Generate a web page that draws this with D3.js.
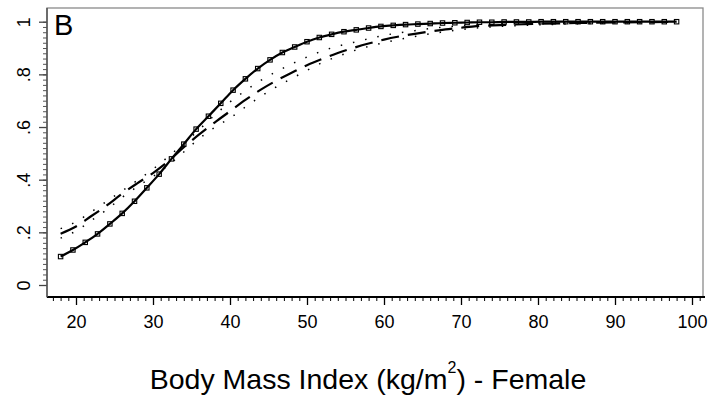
<!DOCTYPE html>
<html>
<head>
<meta charset="utf-8">
<script src="https://cdn.jsdelivr.net/npm/d3@7"></script>
<style>
  html, body { margin: 0; padding: 0; background: #fff; }
  svg { display: block; font-family: Arial, "Liberation Sans", sans-serif; }
</style>
</head>
<body>
<svg id="chart" width="726" height="401"></svg>
<script>
// ---- Data ----
const xTicks = [20, 30, 40, 50, 60, 70, 80, 90, 100];
const yTicks = [0, 0.2, 0.4, 0.6, 0.8, 1];
const yTickLabels = ["0", ".2", ".4", ".6", ".8", "1"];
const panelLabel = "B";

// Solid fitted curve with square markers (BMI, probability)
const solidBmi = [18, 19.6, 21.2, 22.8, 24.4, 26, 27.6, 29.2, 30.8, 32.4, 34, 35.6, 37.2, 38.8, 40.4, 42, 43.6, 45.2, 46.8, 48.4, 50, 51.6, 53.2, 54.8, 56.4, 58, 59.6, 61.2, 62.8, 64.4, 66, 67.6, 69.2, 70.8, 72.4, 74, 75.6, 77.2, 78.8, 80.4, 82, 83.6, 85.2, 86.8, 88.4, 90, 91.6, 93.2, 94.8, 96.4, 98];
const solidVal = [0.108, 0.133, 0.162, 0.194, 0.232, 0.272, 0.318, 0.369, 0.421, 0.479, 0.535, 0.592, 0.641, 0.69, 0.74, 0.783, 0.822, 0.855, 0.883, 0.904, 0.924, 0.94, 0.952, 0.962, 0.969, 0.976, 0.982, 0.986, 0.989, 0.991, 0.993, 0.995, 0.996, 0.997, 0.998, 0.998, 0.999, 0.999, 0.999, 1.0, 1.0, 1.0, 1.0, 1.0, 1.0, 1.0, 1.0, 1.0, 1.0, 1.0, 1.0];

// Dashed curve and its dotted band
const curveBmi = [18, 20, 22, 24, 26, 28, 30, 32, 34, 36, 38, 40, 42, 44, 46, 48, 50, 52, 54, 56, 58, 60, 62, 64, 66, 68, 70, 72, 75, 80, 85, 90, 98];
const dashedVal = [0.195, 0.222, 0.262, 0.302, 0.347, 0.387, 0.425, 0.47, 0.523, 0.572, 0.617, 0.66, 0.703, 0.742, 0.776, 0.806, 0.835, 0.859, 0.881, 0.9, 0.917, 0.932, 0.944, 0.954, 0.963, 0.971, 0.977, 0.983, 0.987, 0.992, 0.995, 0.997, 0.999];
const upperVal = [0.214, 0.24, 0.278, 0.318, 0.358, 0.398, 0.44, 0.488, 0.538, 0.59, 0.645, 0.695, 0.738, 0.777, 0.81, 0.839, 0.866, 0.889, 0.907, 0.921, 0.935, 0.948, 0.958, 0.966, 0.974, 0.98, 0.985, 0.989, 0.992, 0.995, 0.997, 0.998, 0.999];
const lowerVal = [0.178, 0.205, 0.245, 0.286, 0.333, 0.374, 0.412, 0.455, 0.505, 0.556, 0.598, 0.634, 0.676, 0.716, 0.752, 0.784, 0.815, 0.845, 0.868, 0.889, 0.906, 0.92, 0.933, 0.944, 0.954, 0.962, 0.97, 0.976, 0.982, 0.988, 0.992, 0.995, 0.998];

// ---- Layout ----
const svg = d3.select("#chart");
const plot = { left: 47, right: 703, top: 8, bottom: 297 };

const x = d3.scaleLinear().domain([20, 100]).range([76, 692]);
const y = d3.scaleLinear().domain([0, 1]).range([285, 21.7]);

// plot frame
svg.append("rect")
  .attr("x", plot.left).attr("y", plot.top)
  .attr("width", plot.right - plot.left).attr("height", plot.bottom - plot.top)
  .attr("fill", "#fff").attr("stroke", "#8a8a8a").attr("stroke-width", 1.3);

// ---- X axis ----
const minorX = d3.range(17, 102, 1);
const gxMinor = svg.append("g").attr("transform", `translate(0,${plot.bottom})`)
  .call(d3.axisBottom(x).tickValues(minorX).tickSize(4).tickFormat(""));
gxMinor.select(".domain").remove();
gxMinor.selectAll("line").attr("stroke", "#000").attr("stroke-width", 1);

const gx = svg.append("g").attr("transform", `translate(0,${plot.bottom})`)
  .call(d3.axisBottom(x).tickValues(xTicks).tickSize(8).tickPadding(10).tickFormat(d3.format("d")));
gx.select(".domain").remove();
gx.selectAll("line").attr("stroke", "#000").attr("stroke-width", 1.3);
gx.selectAll("text").attr("font-size", 18).attr("fill", "#000")
  .attr("font-family", "Arial, 'Liberation Sans', sans-serif");

svg.append("line")
  .attr("x1", plot.left).attr("x2", plot.right + 2)
  .attr("y1", plot.bottom).attr("y2", plot.bottom)
  .attr("stroke", "#000").attr("stroke-width", 2);

// ---- Y axis ----
const minorY = d3.range(0, 51).map(i => i * 0.02);
const gyMinor = svg.append("g").attr("transform", `translate(${plot.left},0)`)
  .call(d3.axisLeft(y).tickValues(minorY).tickSize(4).tickFormat(""));
gyMinor.select(".domain").remove();
gyMinor.selectAll("line").attr("stroke", "#555").attr("stroke-width", 1);

const gy = svg.append("g").attr("transform", `translate(${plot.left},0)`)
  .call(d3.axisLeft(y).tickValues(yTicks).tickSize(8)
    .tickFormat((d, i) => yTickLabels[i]));
gy.select(".domain").remove();
gy.selectAll("line").attr("stroke", "#444").attr("stroke-width", 1.3);
gy.selectAll("text")
  .attr("font-size", 18).attr("fill", "#000")
  .attr("font-family", "Arial, 'Liberation Sans', sans-serif")
  .attr("x", null).attr("dy", null)
  .attr("text-anchor", "middle")
  .attr("transform", "translate(-17,0) rotate(-90)");

svg.append("line")
  .attr("x1", plot.left).attr("x2", plot.left)
  .attr("y1", plot.top).attr("y2", plot.bottom)
  .attr("stroke", "#555").attr("stroke-width", 1.5);

// ---- Curves ----
const line = d3.line().x(d => x(d[0])).y(d => y(d[1])).curve(d3.curveMonotoneX);
const g = svg.append("g");

g.append("path").datum(curveBmi.map((b, i) => [b, upperVal[i]]))
  .attr("d", line).attr("fill", "none").attr("stroke", "#000")
  .attr("stroke-width", 1.5).attr("stroke-dasharray", "1.5,11");
g.append("path").datum(curveBmi.map((b, i) => [b, lowerVal[i]]))
  .attr("d", line).attr("fill", "none").attr("stroke", "#000")
  .attr("stroke-width", 1.5).attr("stroke-dasharray", "1.5,11");
g.append("path").datum(curveBmi.map((b, i) => [b, dashedVal[i]]))
  .attr("d", line).attr("fill", "none").attr("stroke", "#000")
  .attr("stroke-width", 2.2).attr("stroke-dasharray", "18,9");

g.append("path").datum(solidBmi.map((b, i) => [b, solidVal[i]]))
  .attr("d", line).attr("fill", "none").attr("stroke", "#000")
  .attr("stroke-width", 2.2);

g.selectAll("rect.mk").data(solidBmi.map((b, i) => [b, solidVal[i]]))
  .enter().append("rect").attr("class", "mk")
  .attr("x", d => x(d[0]) - 2.2).attr("y", d => y(d[1]) - 2.2)
  .attr("width", 4.4).attr("height", 4.4)
  .attr("fill", "none").attr("stroke", "#000").attr("stroke-width", 1.1);

// ---- Panel label ----
svg.append("text").attr("x", 54).attr("y", 35)
  .attr("font-size", 29).attr("fill", "#000").text(panelLabel);

// ---- Axis title ----
const title = svg.append("text").attr("x", 368).attr("y", 389)
  .attr("text-anchor", "middle").attr("font-size", 28.5).attr("fill", "#000");
title.append("tspan").text("Body Mass Index (kg/m");
title.append("tspan").attr("font-size", 16).attr("dy", -16).text("2");
title.append("tspan").attr("dy", 16).text(") - Female");
</script>
</body>
</html>
